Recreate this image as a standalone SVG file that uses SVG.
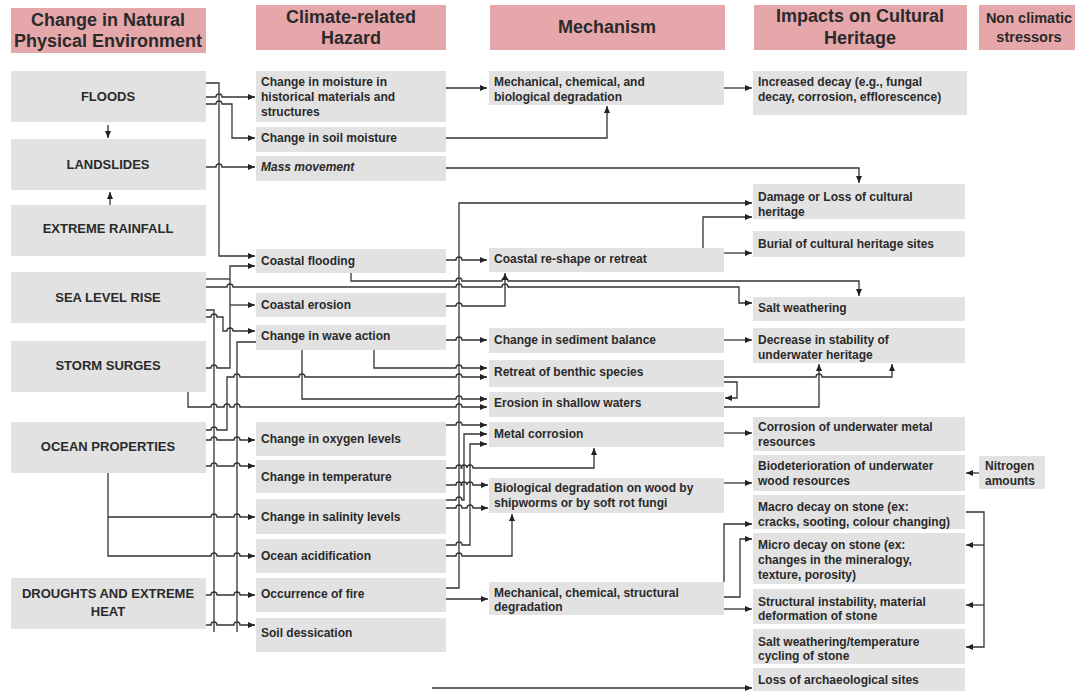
<svg xmlns="http://www.w3.org/2000/svg" width="1075" height="691" viewBox="0 0 1075 691">
<style>
.hd{fill:#e6a7ab}
.bx{fill:#e2e2e2}
.ht{font-family:"Liberation Sans",Arial,sans-serif;font-weight:bold;font-size:18px;fill:#2a2a2a;text-anchor:middle}
.lt{font-family:"Liberation Sans",Arial,sans-serif;font-weight:bold;font-size:13px;fill:#2a2a2a;text-anchor:middle}
.t{font-family:"Liberation Sans",Arial,sans-serif;font-weight:bold;font-size:12px;fill:#2a2a2a}
.c{fill:none;stroke:#333;stroke-width:1.3}
.c path{fill:none}
</style>
<defs>
<marker id="a" markerWidth="7" markerHeight="6" refX="7" refY="3" orient="auto" markerUnits="userSpaceOnUse"><path d="M0,0 L7,3 L0,6 z" fill="#222" stroke="none"/></marker>
</defs>
<rect width="1075" height="691" fill="#ffffff"/>

<g id="headers">
<g id="h1"><rect class="hd" x="11" y="8" width="195" height="45"/><text class="ht" x="108" y="26">Change in Natural</text><text class="ht" x="108" y="47">Physical Environment</text></g>
<g id="h2"><rect class="hd" x="256" y="5" width="190" height="45"/><text class="ht" x="351" y="23">Climate-related</text><text class="ht" x="351" y="44">Hazard</text></g>
<g id="h3"><rect class="hd" x="490" y="5" width="235" height="45"/><text class="ht" x="607" y="33">Mechanism</text></g>
<g id="h4"><rect class="hd" x="754" y="5" width="213" height="45"/><text class="ht" x="860" y="22">Impacts on Cultural</text><text class="ht" x="860" y="44">Heritage</text></g>
<g id="h5"><rect class="hd" x="979" y="5" width="96" height="45"/><text class="ht" x="1029" y="23" style="font-size:14.5px">Non climatic</text><text class="ht" x="1029" y="42" style="font-size:14.5px">stressors</text></g>
</g>

<g id="env">
<g id="floods"><rect class="bx" x="11" y="71" width="195" height="51"/><text class="lt" x="108" y="101">FLOODS</text></g>
<g id="landslides"><rect class="bx" x="11" y="139" width="195" height="51"/><text class="lt" x="108" y="169">LANDSLIDES</text></g>
<g id="rainfall"><rect class="bx" x="11" y="205" width="195" height="51"/><text class="lt" x="108" y="233">EXTREME RAINFALL</text></g>
<g id="slr"><rect class="bx" x="11" y="272" width="195" height="51"/><text class="lt" x="108" y="302">SEA LEVEL RISE</text></g>
<g id="storm"><rect class="bx" x="11" y="341" width="195" height="51"/><text class="lt" x="108" y="370">STORM SURGES</text></g>
<g id="ocean"><rect class="bx" x="11" y="422" width="195" height="51"/><text class="lt" x="108" y="451">OCEAN PROPERTIES</text></g>
<g id="drought"><rect class="bx" x="11" y="578" width="195" height="51"/><text class="lt" x="108" y="598">DROUGHTS AND EXTREME</text><text class="lt" x="108" y="616">HEAT</text></g>
</g>

<g id="hazards">
<g id="hz1"><rect class="bx" x="256" y="71" width="190" height="51"/><text class="t" x="261" y="86">Change in moisture in</text><text class="t" x="261" y="101">historical materials and</text><text class="t" x="261" y="116">structures</text></g>
<g id="hz2"><rect class="bx" x="256" y="127" width="190" height="25"/><text class="t" x="261" y="142">Change in soil moisture</text></g>
<g id="hz3"><rect class="bx" x="256" y="156" width="190" height="25"/><text class="t" x="261" y="171" font-style="italic">Mass movement</text></g>
<g id="hz4"><rect class="bx" x="256" y="249" width="190" height="24"/><text class="t" x="261" y="265">Coastal flooding</text></g>
<g id="hz5"><rect class="bx" x="256" y="293" width="190" height="24"/><text class="t" x="261" y="309">Coastal erosion</text></g>
<g id="hz6"><rect class="bx" x="256" y="325" width="190" height="25"/><text class="t" x="261" y="340">Change in wave action</text></g>
<g id="hz7"><rect class="bx" x="256" y="422" width="190" height="34"/><text class="t" x="261" y="443">Change in oxygen levels</text></g>
<g id="hz8"><rect class="bx" x="256" y="460" width="190" height="33"/><text class="t" x="261" y="481">Change in temperature</text></g>
<g id="hz9"><rect class="bx" x="256" y="499" width="190" height="35"/><text class="t" x="261" y="521">Change in salinity levels</text></g>
<g id="hz10"><rect class="bx" x="256" y="539" width="190" height="34"/><text class="t" x="261" y="560">Ocean acidification</text></g>
<g id="hz11"><rect class="bx" x="256" y="578" width="190" height="34"/><text class="t" x="261" y="598">Occurrence of fire</text></g>
<g id="hz12"><rect class="bx" x="256" y="618" width="190" height="34"/><text class="t" x="261" y="637">Soil dessication</text></g>
</g>

<g id="mechanisms">
<g id="m1"><rect class="bx" x="489" y="71" width="235" height="34"/><text class="t" x="494" y="86">Mechanical, chemical, and</text><text class="t" x="494" y="101">biological degradation</text></g>
<g id="m2"><rect class="bx" x="489" y="248" width="235" height="24"/><text class="t" x="494" y="263">Coastal re-shape or retreat</text></g>
<g id="m3"><rect class="bx" x="489" y="328" width="235" height="25"/><text class="t" x="494" y="344">Change in sediment balance</text></g>
<g id="m4"><rect class="bx" x="489" y="360" width="235" height="27"/><text class="t" x="494" y="376">Retreat of benthic species</text></g>
<g id="m5"><rect class="bx" x="489" y="392" width="235" height="25"/><text class="t" x="494" y="407">Erosion in shallow waters</text></g>
<g id="m6"><rect class="bx" x="489" y="422" width="235" height="25"/><text class="t" x="494" y="438">Metal corrosion</text></g>
<g id="m7"><rect class="bx" x="489" y="478" width="235" height="35"/><text class="t" x="494" y="492">Biological degradation on wood by</text><text class="t" x="494" y="507">shipworms or by soft rot fungi</text></g>
<g id="m8"><rect class="bx" x="489" y="582" width="235" height="33"/><text class="t" x="494" y="597">Mechanical, chemical, structural</text><text class="t" x="494" y="611">degradation</text></g>
</g>

<g id="impacts">
<g id="i1"><rect class="bx" x="753" y="71" width="214" height="44"/><text class="t" x="758" y="86">Increased decay (e.g., fungal</text><text class="t" x="758" y="101">decay, corrosion, efflorescence)</text></g>
<g id="i2"><rect class="bx" x="753" y="184" width="212" height="35"/><text class="t" x="758" y="201">Damage or Loss of cultural</text><text class="t" x="758" y="216">heritage</text></g>
<g id="i3"><rect class="bx" x="753" y="231" width="212" height="26"/><text class="t" x="758" y="248">Burial of cultural heritage sites</text></g>
<g id="i4"><rect class="bx" x="753" y="297" width="212" height="24"/><text class="t" x="758" y="312">Salt weathering</text></g>
<g id="i5"><rect class="bx" x="753" y="328" width="212" height="35"/><text class="t" x="758" y="344">Decrease in stability of</text><text class="t" x="758" y="359">underwater heritage</text></g>
<g id="i6"><rect class="bx" x="753" y="417" width="212" height="34"/><text class="t" x="758" y="431">Corrosion of underwater metal</text><text class="t" x="758" y="446">resources</text></g>
<g id="i7"><rect class="bx" x="753" y="455" width="212" height="36"/><text class="t" x="758" y="470">Biodeterioration of underwater</text><text class="t" x="758" y="485">wood resources</text></g>
<g id="i8"><rect class="bx" x="753" y="495" width="212" height="34"/><text class="t" x="758" y="511">Macro decay on stone (ex:</text><text class="t" x="758" y="526">cracks, sooting, colour changing)</text></g>
<g id="i9"><rect class="bx" x="753" y="533" width="212" height="51"/><text class="t" x="758" y="549">Micro decay on stone (ex:</text><text class="t" x="758" y="564">changes in the mineralogy,</text><text class="t" x="758" y="579">texture, porosity)</text></g>
<g id="i10"><rect class="bx" x="753" y="589" width="212" height="35"/><text class="t" x="758" y="606">Structural instability, material</text><text class="t" x="758" y="620">deformation of stone</text></g>
<g id="i11"><rect class="bx" x="753" y="629" width="212" height="35"/><text class="t" x="758" y="646">Salt weathering/temperature</text><text class="t" x="758" y="660">cycling of stone</text></g>
<g id="i12"><rect class="bx" x="753" y="668" width="212" height="23"/><text class="t" x="758" y="684">Loss of archaeological sites</text></g>
</g>

<g id="stressors">
<g id="n1"><rect class="bx" x="979" y="456" width="66" height="33"/><text class="t" x="985" y="470">Nitrogen</text><text class="t" x="985" y="485">amounts</text></g>
</g>

<g id="connectors" class="c" marker-end="url(#a)">
<path d="M206 83 H219 V256 H255"/>
<path d="M206 97 H216 a3 3 0 0 1 6 0 H255"/>
<path d="M206 104 H216 a3 3 0 0 1 6 0 H232 V138 H255"/>
<path d="M108 125 V138"/>
<path d="M110 205 V192"/>
<path d="M206 167 H216 a3 3 0 0 1 6 0 H255"/>
<path d="M206 279 H230" marker-end="none"/>
<path d="M206 368 H211 a3 3 0 0 1 6 0 H230 V266 H255"/>
<path d="M230 305 H255"/>
<path d="M206 287 H227 a3 3 0 0 1 6 0 H456 a3 3 0 0 1 6 0 H502 a3 3 0 0 1 6 0 H739 V303 H752"/>
<path d="M206 310 H214 V632" marker-end="none"/>
<path d="M206 317 H211 a3 3 0 0 1 6 0 H223 V331 H227 a3 3 0 0 1 6 0 H255"/>
<path d="M256 342 H237 V632" marker-end="none"/>
<path d="M188 392 V407 H211 a3 3 0 0 1 6 0 H224 a3 3 0 0 1 6 0 H234 a3 3 0 0 1 6 0 H456 a3 3 0 0 1 6 0 H487"/>
<path d="M206 430 H211 a3 3 0 0 1 6 0 H227 V377 H234 a3 3 0 0 1 6 0 H299 a3 3 0 0 1 6 0 H456 a3 3 0 0 1 6 0 H487"/>
<path d="M206 440 H211 a3 3 0 0 1 6 0 H234 a3 3 0 0 1 6 0 H255"/>
<path d="M206 466 H211 a3 3 0 0 1 6 0 H234 a3 3 0 0 1 6 0 H255"/>
<path d="M108 473 V556 H211 a3 3 0 0 1 6 0 H234 a3 3 0 0 1 6 0 H255"/>
<path d="M108 517 H211 a3 3 0 0 1 6 0 H234 a3 3 0 0 1 6 0 H255"/>
<path d="M206 595 H211 a3 3 0 0 1 6 0 H234 a3 3 0 0 1 6 0 H255"/>
<path d="M206 625 H211 a3 3 0 0 1 6 0 H234 a3 3 0 0 1 6 0 H255"/>
<path d="M446 88 H487"/>
<path d="M446 138 H607 V106"/>
<path d="M446 168 H859 V183"/>
<path d="M446 260 H456 a3 3 0 0 1 6 0 H487"/>
<path d="M351 273 V281 H456 a3 3 0 0 1 6 0 H502 a3 3 0 0 1 6 0 H859 V296"/>
<path d="M446 306 H456 a3 3 0 0 1 6 0 H505 V273"/>
<path d="M446 340 H456 a3 3 0 0 1 6 0 H487"/>
<path d="M374 350 V368 H456 a3 3 0 0 1 6 0 H487"/>
<path d="M302 350 V399 H456 a3 3 0 0 1 6 0 H487"/>
<path d="M446 425 H456 a3 3 0 0 1 6 0 H487"/>
<path d="M446 468 H456 a3 3 0 0 1 6 0 H461 a3 3 0 0 1 6 0 H467 a3 3 0 0 1 6 0 H594 V448"/>
<path d="M446 485 H456 a3 3 0 0 1 6 0 H461 a3 3 0 0 1 6 0 H467 a3 3 0 0 1 6 0 H488"/>
<path d="M446 500 H456 a3 3 0 0 1 6 0 H464 V434 H487"/>
<path d="M446 508 H456 a3 3 0 0 1 6 0 H467 a3 3 0 0 1 6 0 H488"/>
<path d="M446 545 H456 a3 3 0 0 1 6 0 H470 V444 H487"/>
<path d="M446 556 H456 a3 3 0 0 1 6 0 H512 V514"/>
<path d="M446 588 H459 V203 H752"/>
<path d="M446 599 H488"/>
<path d="M724 88 H752"/>
<path d="M724 253 H752"/>
<path d="M703 248 V217 H752"/>
<path d="M724 340 H752"/>
<path d="M724 377 H816 a3 3 0 0 1 6 0 H892 V364"/>
<path d="M724 382 H737 V398 H725"/>
<path d="M724 407 H819 V364"/>
<path d="M724 433 H752"/>
<path d="M724 483 H752"/>
<path d="M724 582 V524 H752"/>
<path d="M724 597 H740 V539 H752"/>
<path d="M724 609 H752"/>
<path d="M432 688 H752"/>
<path d="M979 473 H966"/>
<path d="M966 512 H984 V647 H966"/>
<path d="M984 545 H966"/>
<path d="M984 605 H966"/>
</g>
</svg>
